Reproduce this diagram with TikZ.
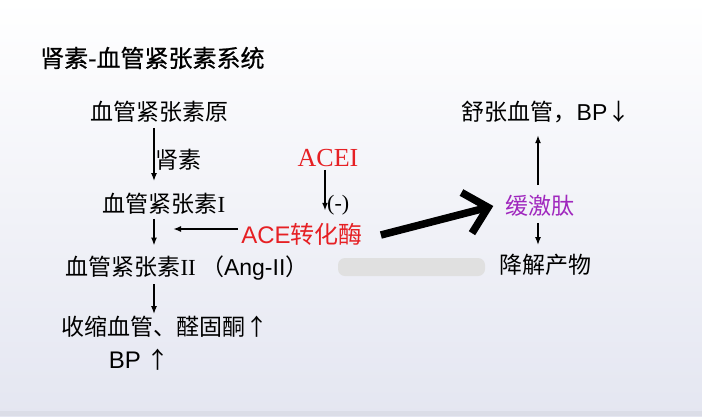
\documentclass[tikz,border=0pt]{standalone}
\usepackage{fontspec}
\setmainfont{Liberation Sans}
\newfontfamily\cjk{Noto Sans CJK SC}
\newfontfamily\cjkb[FakeBold=0.7]{Noto Sans CJK SC}
\newfontfamily\tms{Liberation Serif}
\usetikzlibrary{arrows.meta}
\definecolor{acered}{RGB}{230,32,36}
\definecolor{bkpurple}{RGB}{160,40,190}
\definecolor{bglav}{RGB}{228,230,241}
\tikzset{
  lbl/.style={inner sep=0pt, font=\cjk\fontsize{23}{27}\selectfont},
  arr/.style={-{Latex[length=8pt,width=6pt]}, line width=1.6pt},
  bigarr/.style={-{Straight Barb[length=22pt,width=42pt]}, line width=7.5pt},
}
\begin{document}
\begin{tikzpicture}[x=1pt,y=-1pt]
% background
\useasboundingbox (0,0) rectangle (702,416);
\shade[top color=white, bottom color=bglav] (0,0) rectangle (702,416);
\fill[bglav!80!black!20!bglav] (0,411) rectangle (702,416);

\node[lbl, font=\cjkb\fontsize{24}{28}\selectfont, anchor=west] (title) at (40,58) {肾素-血管紧张素系统};

% left column
\coordinate (spine) at (154,0);
\node[lbl] (yuan) at (159,112) {血管紧张素原};
\node[lbl] (ang1) at (164,204) {血管紧张素{\tms I}};
\node[lbl] (ang2) at (187,268) {血管紧张素{\tms II} （{\rmfamily Ang-II}）};
\node[lbl] (shou) at (165,327) {收缩血管、醛固酮↑};
\node[lbl] (bp) at (139,360) {{\rmfamily\fontsize{24}{28}\selectfont BP} ↑};
\node[lbl, anchor=west] (shen) at (155,160) {肾素};

\draw[arr, shorten <=5pt, shorten >=12pt] (yuan.south -| spine) -- (ang1.north -| spine);
\draw[arr, shorten <=4pt, shorten >=10pt] (ang1.south -| spine) -- (ang2.north -| spine);
\draw[arr, shorten <=4pt, shorten >=2pt] (ang2.south -| spine) -- (shou.north -| spine);

% ACE and inhibitor
\node[lbl, text=acered, font=\tms\fontsize{26}{30}\selectfont] (acei) at (328,158) {ACEI};
\node[lbl, text=acered, font=\cjk\fontsize{24}{28}\selectfont] (ace) at (302,234) {{\rmfamily ACE}转化酶};
\node[inner sep=0pt, font=\tms\fontsize{22}{26}\selectfont, anchor=west] (inh) at (327,205) {(-)};
\draw[arr, shorten <=3pt, shorten >=12pt] (acei.south -| 325,0) -- (ace.north -| 325,0);
\coordinate (ang1end) at (173,229);
\draw[arr] (ace.west |- ang1end) ++(-3,0) -- (ang1end);

% blurred text
\fill[black!12, rounded corners=7pt] (338,258) rectangle (485,276);

% bradykinin
\node[lbl, text=bkpurple] (bk) at (540,206) {缓激肽};
\node[lbl] (shu) at (546,112) {舒张血管，{\rmfamily BP}↓};
\node[lbl] (jiang) at (545,265) {降解产物};
\draw[arr, shorten <=10pt, shorten >=12pt] (bk.north -| 538,0) -- (shu.south -| 538,0);
\draw[arr, shorten <=6pt, shorten >=9pt] (bk.south -| 538,0) -- (jiang.north -| 538,0);

\draw[bigarr] ([xshift=18pt,yshift=-1pt]ace.east) -- ([xshift=-12pt]bk.west);
\end{tikzpicture}
\end{document}
